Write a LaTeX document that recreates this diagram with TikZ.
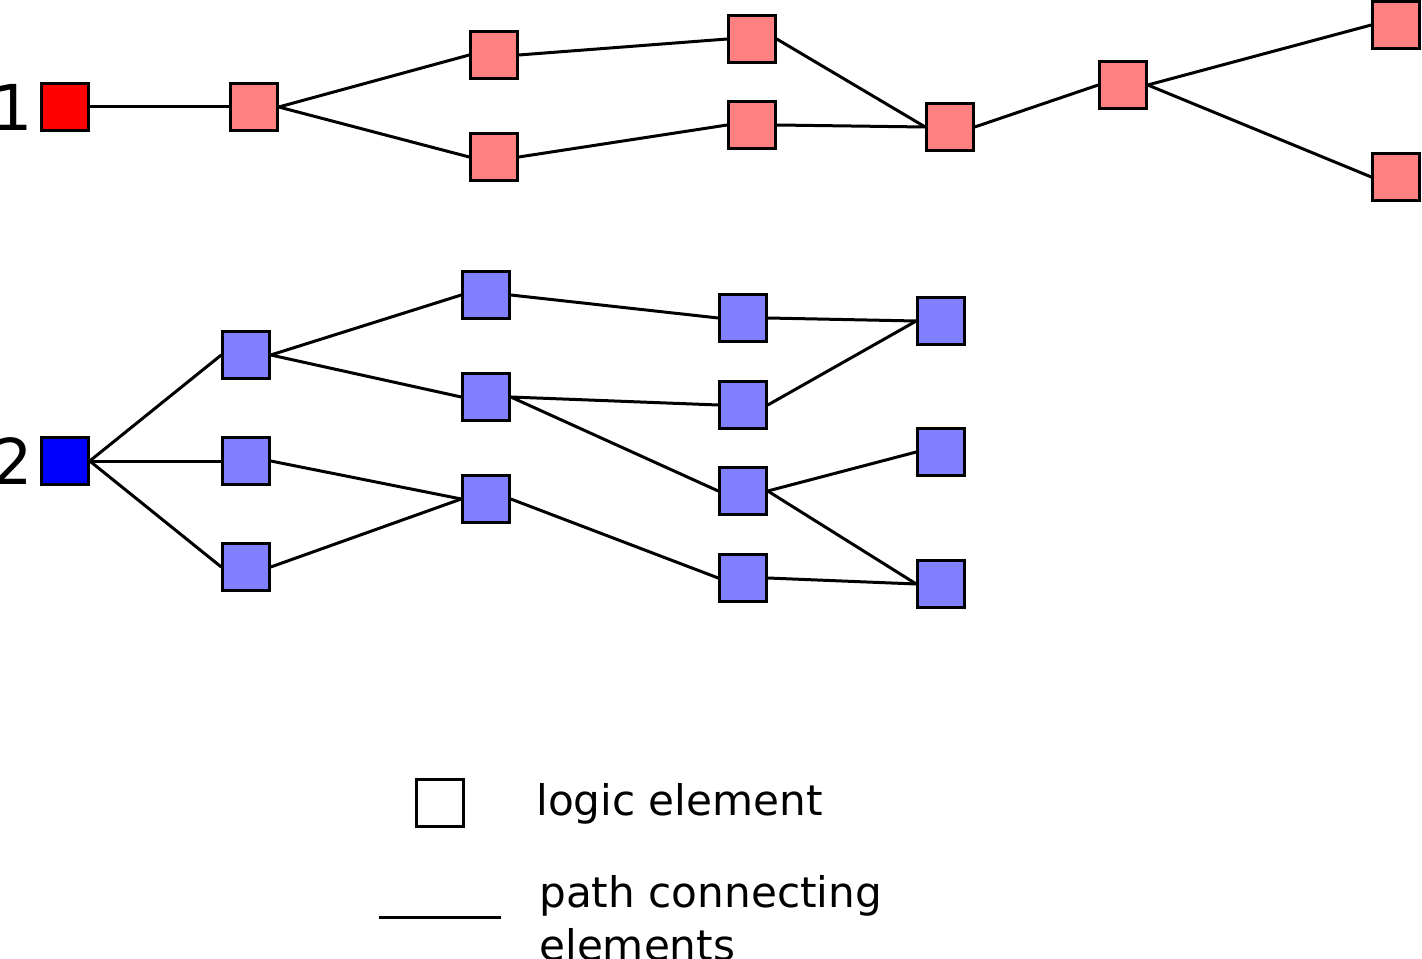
\documentclass[tikz,border=0pt]{standalone}
\usepackage{fontspec}
\setmainfont{DejaVu Sans}
\usepackage{xcolor}
\usepackage{tikz}
\usetikzlibrary{positioning}

\definecolor{lightred}{HTML}{FF8080}
\definecolor{lightblue}{HTML}{8080FF}
\definecolor{fullred}{HTML}{FF0000}
\definecolor{fullblue}{HTML}{0000FF}

\begin{document}
\begin{tikzpicture}[
  x=0.02cm, y=-0.02cm,
  cell/.style={rectangle, draw, line width=0.06cm, minimum size=0.93cm, inner sep=0pt},
  redcell/.style={cell, fill=lightred},
  bluecell/.style={cell, fill=lightblue},
  num/.style={inner sep=0pt, font=\fontsize{36}{43}\selectfont},
  legend/.style={inner sep=0pt, align=left, font=\fontsize{24}{30}\selectfont},
  every edge/.style={draw, line width=0.06cm}
  ]
\useasboundingbox (0,0) rectangle (1422,959);
\clip (0,0) rectangle (1422,959);

% Nodes (path 1)
\node[cell, fill=fullred] (r0) at (65,107) {};
\node[redcell] (r1) at (254,107) {};
\node[redcell] (r2) at (494,55) {};
\node[redcell] (r3) at (494,157) {};
\node[redcell] (r4) at (752,39) {};
\node[redcell] (r5) at (752,125) {};
\node[redcell] (r6) at (950,127) {};
\node[redcell] (r7) at (1123,85) {};
\node[redcell] (r8) at (1396,25) {};
\node[redcell] (r9) at (1396,177) {};

% Nodes (path 2)
\node[cell, fill=fullblue] (b0) at (65,461) {};
\node[bluecell] (b1) at (246,355) {};
\node[bluecell] (b2) at (246,461) {};
\node[bluecell] (b3) at (246,567) {};
\node[bluecell] (b4) at (486,295) {};
\node[bluecell] (b5) at (486,397) {};
\node[bluecell] (b6) at (486,499) {};
\node[bluecell] (b7) at (743,318) {};
\node[bluecell] (b8) at (743,405) {};
\node[bluecell] (b9) at (743,491) {};
\node[bluecell] (b10) at (743,578) {};
\node[bluecell] (b11) at (941,321) {};
\node[bluecell] (b12) at (941,452) {};
\node[bluecell] (b13) at (941,584) {};

% Edges (path 1)
\path (r0.east) edge (r1.west);
\path (r1.east) edge (r2.west);
\path (r1.east) edge (r3.west);
\path (r2.east) edge (r4.west);
\path (r3.east) edge (r5.west);
\path (r4.east) edge (r6.west);
\path (r5.east) edge (r6.west);
\path (r6.east) edge (r7.west);
\path (r7.east) edge (r8.west);
\path (r7.east) edge (r9.west);

% Edges (path 2)
\path (b0.east) edge (b1.west);
\path (b0.east) edge (b2.west);
\path (b0.east) edge (b3.west);
\path (b1.east) edge (b4.west);
\path (b1.east) edge (b5.west);
\path (b2.east) edge (b6.west);
\path (b3.east) edge (b6.west);
\path (b4.east) edge (b7.west);
\path (b5.east) edge (b8.west);
\path (b5.east) edge (b9.west);
\path (b6.east) edge (b10.west);
\path (b7.east) edge (b11.west);
\path (b8.east) edge (b11.west);
\path (b9.east) edge (b12.west);
\path (b9.east) edge (b13.west);
\path (b10.east) edge (b13.west);

% Labels
\node[num, left=0.14cm of r0] (one) {1};
\node[num, left=0.14cm of b0] (two) {2};

% Legend
\node[cell, minimum size=0.94cm] (legcell) at (440,803) {};
\node[legend, anchor=base west] (legcelltxt) at (536,815) {logic element};
\coordinate (lega) at (379,917);
\coordinate (legb) at (501,917);
\path (lega) edge (legb);
\node[legend, anchor=north west] (legpathtxt) at (539,875) {path connecting\\elements};

\end{tikzpicture}
\end{document}
